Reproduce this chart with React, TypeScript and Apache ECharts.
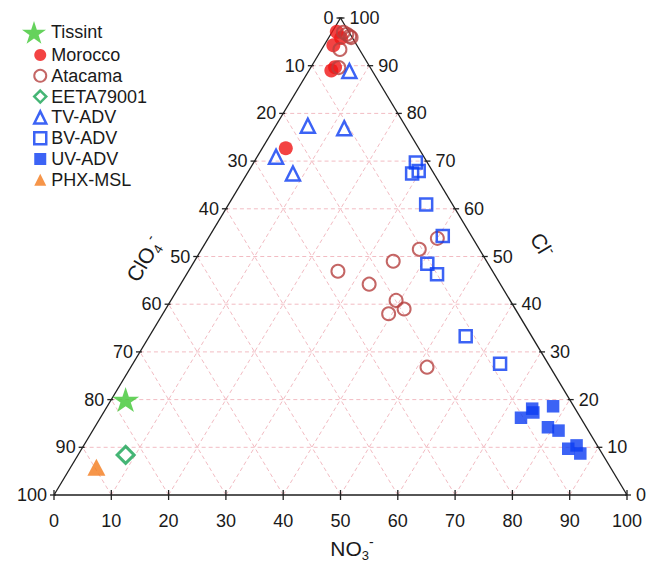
import React, { useEffect, useRef } from "react";
import * as echarts from "echarts";

const FONT = '"Liberation Sans", Arial, Helvetica, sans-serif';

// Ternary tick labels (percent)
const tickValues = [0, 10, 20, 30, 40, 50, 60, 70, 80, 90, 100];
const gridValues = [10, 20, 30, 40, 50, 60, 70, 80, 90];

// Compositions: [NO3-, Cl-, ClO4-] in %
const tissint = [[2.5, 20.0, 77.5]];
const morocco = [
  [0.8, 97.1, 2.1],
  [2.2, 95.8, 2.0],
  [1.6, 94.3, 4.1],
  [3.9, 89.0, 7.1],
  [4.2, 89.7, 6.1],
  [4.1, 72.7, 23.2],
];
const atacama = [
  [2.0, 97.0, 1.0],
  [2.8, 96.6, 0.6],
  [3.5, 96.2, 0.3],
  [3.9, 95.9, 0.2],
  [3.2, 93.4, 3.4],
  [4.9, 89.6, 5.5],
  [26.1, 46.9, 27.0],
  [34.7, 49.0, 16.3],
  [38.0, 51.5, 10.5],
  [40.0, 53.8, 6.2],
  [32.9, 44.2, 22.9],
  [39.3, 40.8, 19.9],
  [41.6, 39.0, 19.4],
  [39.4, 38.0, 22.6],
  [51.7, 26.8, 21.5],
];
const eeta79001 = [[8.3, 8.4, 83.3]];
const tvAdv = [
  [7.1, 88.9, 4.0],
  [5.6, 77.4, 17.0],
  [12.2, 76.9, 10.9],
  [3.3, 70.9, 25.8],
  [8.0, 67.4, 24.6],
];
const bvAdv = [
  [28.3, 69.7, 2.0],
  [29.7, 67.9, 2.4],
  [28.8, 67.4, 3.8],
  [34.5, 60.9, 4.6],
  [40.7, 54.3, 5.0],
  [40.9, 48.5, 10.6],
  [43.7, 46.3, 10.0],
  [55.2, 33.3, 11.5],
  [64.1, 27.5, 8.4],
];
const uvAdv = [
  [73.4, 16.2, 10.4],
  [74.4, 18.1, 7.5],
  [75.0, 17.3, 7.7],
  [77.8, 18.6, 3.6],
  [79.1, 14.2, 6.7],
  [81.3, 13.5, 5.2],
  [84.9, 9.7, 5.4],
  [86.0, 10.4, 3.6],
  [87.5, 8.7, 3.8],
];
const phxMsl = [[4.5, 5.8, 89.7]];

// ternary [NO3, Cl] -> cartesian [x, y]
const toXY = (p: number[]) => [p[0] + p[1] / 2, p[1]];

const STAR =
  "path://M50 0 L61.23 34.55 L97.55 34.55 L68.16 55.9 L79.39 90.45 L50 69.1 L20.61 90.45 L31.84 55.9 L2.45 34.55 L38.77 34.55 Z";

const TXT = "#1a1a1a";
const BLUE = "#0b3cf2";
const RED = "#f01414";
const BROWN = "#b5403f";
const GREEN = "#17a352";
const STARGREEN = "#3ec733";
const ORANGE = "#f47a1c";

export default function App() {
  const ref = useRef<HTMLDivElement>(null);
  useEffect(() => {
    document.body.style.margin = "0";
    const chart = echarts.init(ref.current!, null, { renderer: "svg" });

    const gridSegs: number[][] = [];
    gridValues.forEach((k) => {
      gridSegs.push([...toXY([0, k]), ...toXY([100 - k, k])]);
      gridSegs.push([...toXY([k, 0]), ...toXY([k, 100 - k])]);
      gridSegs.push([...toXY([100 - k, 0]), ...toXY([0, 100 - k])]);
    });
    const edgeSegs = [
      [...toXY([0, 0]), ...toXY([100, 0])],
      [...toXY([100, 0]), ...toXY([0, 100])],
      [...toXY([0, 100]), ...toXY([0, 0])],
    ];
    const leftTicks = tickValues.map((v) => [...toXY([0, 100 - v]), v]);
    const rightTicks = tickValues.map((v) => [...toXY([100 - v, v]), v]);
    const bottomTicks = tickValues.map((v) => [...toXY([v, 0]), v]);

    const segSeries = (data: number[][], style: any) => ({
      type: "custom",
      silent: true,
      data,
      encode: { x: [0, 2], y: [1, 3] },
      renderItem: (_p: any, api: any) => {
        const a = api.coord([api.value(0), api.value(1)]);
        const b = api.coord([api.value(2), api.value(3)]);
        return {
          type: "line",
          shape: { x1: a[0], y1: a[1], x2: b[0], y2: b[1] },
          style,
        };
      },
    });

    const tickSeries = (data: number[][], kind: string) => ({
      type: "custom",
      silent: true,
      data,
      encode: { x: 0, y: 1 },
      renderItem: (_p: any, api: any) => {
        const p = api.coord([api.value(0), api.value(1)]);
        const v = api.value(2);
        let shape: any;
        let tx = 0;
        let ty = 0;
        let align = "center";
        if (kind === "left") {
          shape = { x1: p[0] - 4, y1: p[1], x2: p[0] + 2, y2: p[1] };
          tx = p[0] - 7;
          ty = p[1];
          align = "right";
        } else if (kind === "right") {
          shape = { x1: p[0] - 2, y1: p[1], x2: p[0] + 4, y2: p[1] };
          tx = p[0] + 9;
          ty = p[1];
          align = "left";
        } else {
          shape = { x1: p[0], y1: p[1] - 5, x2: p[0], y2: p[1] + 5 };
          tx = p[0];
          ty = p[1] + 26;
          align = "center";
        }
        return {
          type: "group",
          children: [
            { type: "line", shape, style: { stroke: "#222", lineWidth: 1.3 } },
            {
              type: "text",
              x: tx,
              y: ty,
              style: {
                text: String(v),
                fill: TXT,
                font: `18px ${FONT}`,
                fontSize: 18,
                fontFamily: FONT,
                align,
                textAlign: align,
                verticalAlign: "middle",
                textVerticalAlign: "middle",
              },
            },
          ],
        };
      },
    });

    const scatter = (name: string, data: number[][], extra: any) => ({
      name,
      type: "scatter",
      data: data.map(toXY),
      ...extra,
    });

    const richTitle = () => ({
      a: { fontSize: 21, fontFamily: FONT, fill: TXT, color: TXT, lineHeight: 27, verticalAlign: "middle" },
      b: { fontSize: 13, fontFamily: FONT, fill: TXT, color: TXT, lineHeight: 13, verticalAlign: "bottom" },
      c: { fontSize: 14, fontFamily: FONT, fill: TXT, color: TXT, lineHeight: 14, verticalAlign: "top" },
    });

    const legendText = { fontSize: 18, fontFamily: FONT, color: TXT, lineHeight: 18 };
    const hollow = "rgba(255,255,255,0)";

    const option: any = {
      animation: false,
      backgroundColor: "#ffffff",
      grid: { left: 54, right: 21, top: 18, bottom: 69 },
      xAxis: { type: "value", min: 0, max: 100, show: false },
      yAxis: { type: "value", min: 0, max: 100, show: false },
      legend: [
        {
          orient: "vertical",
          left: 17,
          top: 16,
          itemWidth: 24,
          itemHeight: 23,
          itemGap: 0,
          textStyle: legendText,
          data: [{ name: "Tissint", icon: STAR, itemStyle: { color: STARGREEN, borderWidth: 0 } }],
        },
        {
          orient: "vertical",
          left: 28,
          top: 41,
          itemWidth: 12,
          itemHeight: 12,
          itemGap: 2.8,
          textStyle: legendText,
          data: [
            { name: "Morocco", icon: "circle", itemStyle: { color: RED, borderWidth: 0 } },
            { name: "Atacama", icon: "circle", itemStyle: { color: "#fff", borderColor: BROWN, borderWidth: 2 } },
            { name: "EETA79001", icon: "diamond", itemStyle: { color: "#fff", borderColor: GREEN, borderWidth: 2.5 } },
            { name: "TV-ADV", icon: "triangle", itemStyle: { color: "#fff", borderColor: BLUE, borderWidth: 2.5 } },
            { name: "BV-ADV", icon: "rect", itemStyle: { color: "#fff", borderColor: BLUE, borderWidth: 2.5 } },
            { name: "UV-ADV", icon: "rect", itemStyle: { color: BLUE, borderWidth: 0 } },
            { name: "PHX-MSL", icon: "triangle", itemStyle: { color: ORANGE, borderWidth: 0 } },
          ],
        },
      ],
      graphic: [
        {
          type: "text",
          x: 352,
          y: 548,
          style: {
            text: "{a|NO}{b|3}{c|-}",
            rich: richTitle(),
            align: "center",
            textAlign: "center",
            verticalAlign: "middle",
            textVerticalAlign: "middle",
          },
        },
        {
          type: "text",
          x: 144,
          y: 259,
          rotation: 1.03,
          style: {
            text: "{a|ClO}{b|4}{c|-}",
            rich: richTitle(),
            align: "center",
            textAlign: "center",
            verticalAlign: "middle",
            textVerticalAlign: "middle",
          },
        },
        {
          type: "text",
          x: 542,
          y: 245,
          rotation: -1.03,
          style: {
            text: "{a|Cl}{c|-}",
            rich: richTitle(),
            align: "center",
            textAlign: "center",
            verticalAlign: "middle",
            textVerticalAlign: "middle",
          },
        },
      ],
      series: [
        segSeries(gridSegs, { stroke: "#f2bcc3", lineWidth: 1, lineDash: [4, 3] }),
        segSeries(edgeSegs, { stroke: "#1e1e1e", lineWidth: 1.3 }),
        tickSeries(leftTicks, "left"),
        tickSeries(rightTicks, "right"),
        tickSeries(bottomTicks, "bottom"),
        scatter("Tissint", tissint, {
          symbol: STAR,
          symbolSize: [27, 25],
          itemStyle: { color: STARGREEN },
        }),
        scatter("Morocco", morocco, {
          symbol: "circle",
          symbolSize: 14,
          itemStyle: { color: RED },
        }),
        scatter("Atacama", atacama, {
          symbol: "circle",
          symbolSize: 13,
          itemStyle: { color: hollow, borderColor: BROWN, borderWidth: 2 },
        }),
        scatter("EETA79001", eeta79001, {
          symbol: "diamond",
          symbolSize: 17,
          itemStyle: { color: hollow, borderColor: GREEN, borderWidth: 3 },
        }),
        scatter("TV-ADV", tvAdv, {
          symbol: "triangle",
          symbolSize: 14,
          itemStyle: { color: hollow, borderColor: BLUE, borderWidth: 2.5 },
        }),
        scatter("BV-ADV", bvAdv, {
          symbol: "rect",
          symbolSize: 12,
          itemStyle: { color: hollow, borderColor: BLUE, borderWidth: 2.5 },
        }),
        scatter("UV-ADV", uvAdv, {
          symbol: "rect",
          symbolSize: 12.5,
          itemStyle: { color: BLUE },
        }),
        scatter("PHX-MSL", phxMsl, {
          symbol: "triangle",
          symbolSize: [18, 17],
          itemStyle: { color: ORANGE },
        }),
      ],
    };

    chart.setOption(option);
    return () => chart.dispose();
  }, []);

  return <div ref={ref} style={{ width: 648, height: 564 }} />;
}
